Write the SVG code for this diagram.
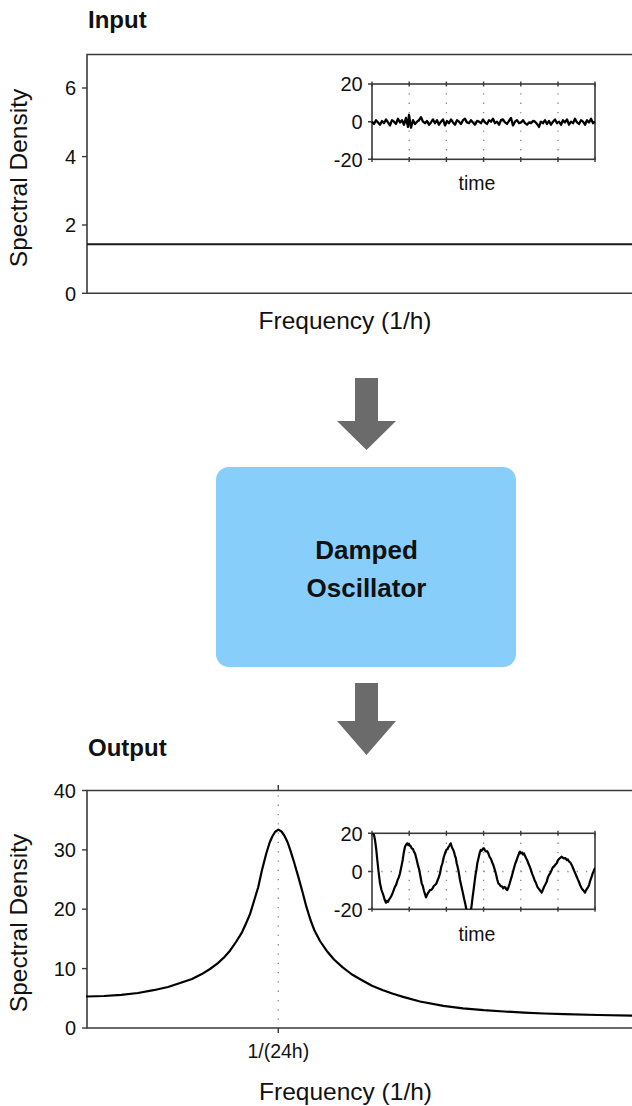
<svg xmlns="http://www.w3.org/2000/svg" width="632" height="1106" viewBox="0 0 632 1106">
<style>
.frame{fill:none;stroke:#3a3a3a;stroke-width:1.6}
.tick{stroke:#3a3a3a;stroke-width:1.4}
.dot{stroke:#8a8a8a;stroke-width:1.3;stroke-dasharray:1.3 8}
.curve{fill:none;stroke:#000;stroke-width:2.2;stroke-linejoin:round;stroke-linecap:round}
.noise{fill:none;stroke:#000;stroke-width:2.3;stroke-linejoin:round;vector-effect:non-scaling-stroke}
.lbl{font-family:"Liberation Sans",Arial,Helvetica,sans-serif;fill:#111}
.title{font-weight:bold;font-size:24px}
.tk{font-size:20px;text-anchor:end}
.ax{font-size:24.5px;text-anchor:middle}
.sm{font-size:19.5px;text-anchor:middle}
.box{fill:#87cefa}
.boxt{font-weight:bold;font-size:26px;text-anchor:middle}
.arrow{fill:#6b6b6b}
</style>
<defs>
<clipPath id="clipOut"><rect x="372" y="833.3" width="223" height="76"/></clipPath>
</defs>
<rect width="632" height="1106" fill="#fff"/>

<g id="input-plot">
<text class="lbl title" x="88" y="28">Input</text>
<path class="frame" d="M700,54.5 H87 V293.3 H700"/>
<g class="tick">
<line x1="82" y1="88" x2="87" y2="88"/>
<line x1="82" y1="156.6" x2="87" y2="156.6"/>
<line x1="82" y1="225" x2="87" y2="225"/>
<line x1="82" y1="293.3" x2="87" y2="293.3"/>
</g>
<g class="lbl tk">
<text x="76" y="95.2">6</text>
<text x="76" y="163.8">4</text>
<text x="76" y="232.2">2</text>
<text x="76" y="300.5">0</text>
</g>
<line x1="87" y1="244.3" x2="632" y2="244.3" stroke="#1a1a1a" stroke-width="2"/>
<text class="lbl ax" transform="translate(27,178) rotate(-90)">Spectral Density</text>
<text class="lbl ax" x="345" y="329">Frequency (1/h)</text>
<g id="input-inset">
<g class="dot">
<line x1="409.2" y1="84" x2="409.2" y2="159.3"/>
<line x1="446.4" y1="84" x2="446.4" y2="159.3"/>
<line x1="483.6" y1="84" x2="483.6" y2="159.3"/>
<line x1="520.8" y1="84" x2="520.8" y2="159.3"/>
<line x1="558" y1="84" x2="558" y2="159.3"/>
<line x1="372" y1="121.7" x2="595" y2="121.7"/>
</g>
<rect class="frame" x="372" y="84" width="223" height="75.3"/>
<g class="tick">
<path d="M372,81.5V86.5 M409.2,81.5V86.5 M446.4,81.5V86.5 M483.6,81.5V86.5 M520.8,81.5V86.5 M558,81.5V86.5 M595,81.5V86.5"/>
<path d="M372,157V162 M409.2,157V162 M446.4,157V162 M483.6,157V162 M520.8,157V162 M558,157V162 M595,157V162"/>
<path d="M368,84H372 M368,121.7H372 M368,159.3H372"/>
</g>
<polyline class="noise" transform="translate(0,121.7) scale(1,1.5) translate(0,-121.7)" points="372,121.7 374,123.2 376,120.7 378,122.2 380,123.7 382,121.2 384,122.7 386,120.2 388,122.2 390,124.2 392,120.7 394,121.7 396,123.2 398,119.7 400,122.2 402,120.7 404,123.7 406,119.2 408,125.2 409,117.2 411,125.7 413,120.7 415,123.2 417,121.7 419,120.7 421,118.7 423,121.7 425,122.7 427,121.2 429,123.7 431,122.2 433,120.2 435,122.7 437,120.7 439,123.7 441,121.7 443,120.2 445,124.2 447,121.2 449,122.7 451,120.2 453,122.2 455,123.7 457,120.7 459,121.7 461,123.2 463,120.7 465,119.7 467,122.2 469,122.7 471,120.7 473,122.2 475,123.7 477,121.2 479,121.7 481,122.7 483,120.2 485,122.2 487,123.2 489,120.7 491,121.7 493,119.7 495,122.7 497,121.7 499,123.7 501,120.7 503,120.2 505,122.2 507,123.2 509,121.2 511,119.2 513,124.2 515,121.7 517,120.7 519,122.7 521,122.2 523,120.7 525,122.7 527,123.7 529,122.2 531,122.7 533,121.2 535,121.7 537,123.2 539,125.2 541,121.7 543,122.7 545,120.7 547,123.2 549,121.2 551,123.7 553,121.7 555,120.2 557,122.7 559,121.7 561,123.7 563,120.7 565,122.2 567,120.2 569,123.7 571,121.7 573,122.7 575,119.7 577,122.2 579,123.2 581,120.7 583,121.7 585,123.7 587,120.7 589,122.2 591,119.7 593,122.7 595,121.7"/>
<g class="lbl tk">
<text x="362.7" y="91.2">20</text>
<text x="362.7" y="128.9">0</text>
<text x="362.7" y="166.5">-20</text>
</g>
<text class="lbl sm" x="477" y="190">time</text>
</g>
</g>

<g id="connectors">
<polygon class="arrow" points="355,378 378,378 378,421 396,421 366.5,450 337,421 355,421"/>
<polygon class="arrow" points="355,683 378,683 378,721 396,721 366.5,755 337,721 355,721"/>
</g>

<g id="damped-oscillator">
<rect class="box" x="216" y="467" width="300" height="200" rx="13"/>
<text class="lbl boxt" x="366.5" y="559">Damped</text>
<text class="lbl boxt" x="366.5" y="597">Oscillator</text>
</g>

<g id="output-plot">
<text class="lbl title" x="88" y="756">Output</text>
<line class="dot" x1="278.3" y1="786" x2="278.3" y2="1028"/>
<path class="frame" d="M700,790.5 H87 V1028 H700"/>
<g class="tick">
<line x1="82" y1="790.5" x2="87" y2="790.5"/>
<line x1="82" y1="849.9" x2="87" y2="849.9"/>
<line x1="82" y1="909.2" x2="87" y2="909.2"/>
<line x1="82" y1="968.6" x2="87" y2="968.6"/>
<line x1="82" y1="1028" x2="87" y2="1028"/>
<line x1="278.3" y1="1028" x2="278.3" y2="1033"/>
<line x1="278.3" y1="785" x2="278.3" y2="790.5"/>
</g>
<g class="lbl tk">
<text x="76" y="797.7">40</text>
<text x="76" y="857.1">30</text>
<text x="76" y="916.4">20</text>
<text x="76" y="975.8">10</text>
<text x="76" y="1035.2">0</text>
</g>
<path class="curve" d="M87,996.5 L104,996 L121.2,994.8 L138,993 L153.5,990.2 L168,987 L181.6,982.5 L192,979 L201.8,974.1 L210,969 L217.9,963.1 L224,957.5 L230,950.7 L236,942 L242,932.3 L246,923.5 L250.1,913.9 L254,901 L258.2,887.2 L262,870 L266.2,853.7 L269.5,843 L272.3,836.5 L275,832 L278.3,829.6 L281.5,831.5 L284.3,835.5 L287.5,842 L290.4,850.4 L294,862 L298.4,877.1 L302.5,892 L306.5,907.2 L310.5,920 L314.5,930.6 L320,941 L326.6,950.7 L334,959.5 L342.7,967.4 L352,974.5 L362.9,980.8 L372,985.8 L383,990.2 L393,993.8 L403.1,996.9 L420,1001.5 L443.4,1005.9 L463,1008.3 L483.7,1010.2 L504,1011.5 L524,1012.6 L544,1013.5 L564.3,1014.2 L598,1015 L632,1015.6"/>
<text class="lbl sm" x="278.3" y="1058">1/(24h)</text>
<text class="lbl ax" transform="translate(27,923) rotate(-90)">Spectral Density</text>
<text class="lbl ax" x="345.5" y="1100">Frequency (1/h)</text>
<g id="output-inset">
<g class="dot">
<line x1="409.2" y1="833.3" x2="409.2" y2="909.3"/>
<line x1="446.4" y1="833.3" x2="446.4" y2="909.3"/>
<line x1="483.6" y1="833.3" x2="483.6" y2="909.3"/>
<line x1="520.8" y1="833.3" x2="520.8" y2="909.3"/>
<line x1="558" y1="833.3" x2="558" y2="909.3"/>
<line x1="372" y1="871.5" x2="595" y2="871.5"/>
</g>
<rect class="frame" x="372" y="833.3" width="223" height="76"/>
<g class="tick">
<path d="M372,830.8V835.8 M409.2,830.8V835.8 M446.4,830.8V835.8 M483.6,830.8V835.8 M520.8,830.8V835.8 M558,830.8V835.8 M595,830.8V835.8"/>
<path d="M372,906.8V911.8 M409.2,906.8V911.8 M446.4,906.8V911.8 M483.6,906.8V911.8 M520.8,906.8V911.8 M558,906.8V911.8 M595,906.8V911.8"/>
<path d="M368,833.3H372 M368,871.5H372 M368,909.3H372"/>
</g>
<polyline class="curve" clip-path="url(#clipOut)" points="372.7,832.7 374,835 375,840 376.2,849 377.3,860 378.6,872 380,883.3 381.5,890 383.3,895 384.6,899.5 386,902.7 387,901 388,901.8 389,899.6 390,898.3 391.2,896.2 392.5,893.5 393.8,889.8 395,886.7 396.2,884.6 397.5,880.2 398.8,877.4 400,873.3 401.3,867 402.7,860 403.8,852.5 405,846.7 406.2,844.5 407.3,843.3 408.2,845 409,844 409.8,845.8 410.7,846 411.8,848.5 413,849 414,851.8 415,853.3 416.5,859 418.3,866.7 419.2,869.5 420,874 421,879.5 421.7,883.3 422.8,886 424,891 425,894.2 426,897.3 427,895 428,893 429,891.6 430,890 431.3,889.8 432.5,888.5 433.8,886 435,885 436.2,883.8 437.5,880.5 438.8,877.4 440,873.3 441.2,867 442.5,863 443.8,857 445,853.3 446.6,849.5 447.5,849.2 448.3,847.3 449.5,845.6 450.7,843.3 452,847.5 453.3,850 454.2,852.6 455,856 455.8,858 456.7,863.3 457.6,866.8 458.5,871 459.3,875.5 460,880 461,884.6 462,889 463,893.5 464,898.3 465.3,904 466.5,910 471,910 471.8,904 472.5,898 473.3,892 474,886.7 474.8,880.4 475.5,875 476.5,869.2 477.3,863.3 478.2,859.5 479,856 479.8,852.6 480.7,850 481.6,850.8 482.5,849.5 483.2,848.4 484,848.3 485,850.4 486,851.5 487.2,851.2 488.3,853.3 489.6,856.8 491,859 492.2,862.4 493.3,865 494.6,869.2 496,874 497.2,879.5 498.3,883.3 499.4,884.2 500.5,886 501.9,886.4 503.3,888.3 504.4,886.9 505.5,887.5 506.4,889.6 507.3,890 508.4,887.5 509.5,884 510.6,880.2 511.7,876.7 512.8,872.4 514,868 515.3,863.5 516.7,860 517.6,857.2 518.5,855 519.3,852.6 520,851.7 521,853.4 522,852.5 523,854.5 524,853.3 525,855.8 526,858 527.2,860.2 528.3,863.3 529.6,866.4 531,870 532.2,873.8 533.3,876.7 534.6,880.2 536,883 537.2,886.5 538.3,888.3 539.2,889.2 540,890.5 540.8,891.4 541.7,892.7 542.8,890 544,887 545.3,884.6 546.7,881.7 547.8,877.6 549,875 550.4,872.8 551.7,870 552.8,867.4 554,866.5 555.4,864.6 556.7,863.3 557.8,860.4 559,859 560.3,857.8 561.7,856.7 562.8,857.8 564,858.5 565.4,858 566.7,860 567.8,859.4 569,861.5 570.4,862.6 571.7,865 572.8,867.5 574,870.5 575.4,873.6 576.7,876.7 577.8,879.4 579,882 580.4,885.8 581.7,888.3 582.6,889.6 583.5,890.5 584.2,891.6 585,892.7 585.8,890.6 586.5,889.5 587.4,888.2 588.3,886.7 589.2,884.6 590,881.5 590.8,879.2 591.7,876.7 592.6,873.6 593.5,871.5 594.2,869.6 595,868.3"/>
<g class="lbl tk">
<text x="362.7" y="840.5">20</text>
<text x="362.7" y="878.7">0</text>
<text x="362.7" y="916.5">-20</text>
</g>
<text class="lbl sm" x="477" y="940.7">time</text>
</g>
</g>
</svg>
